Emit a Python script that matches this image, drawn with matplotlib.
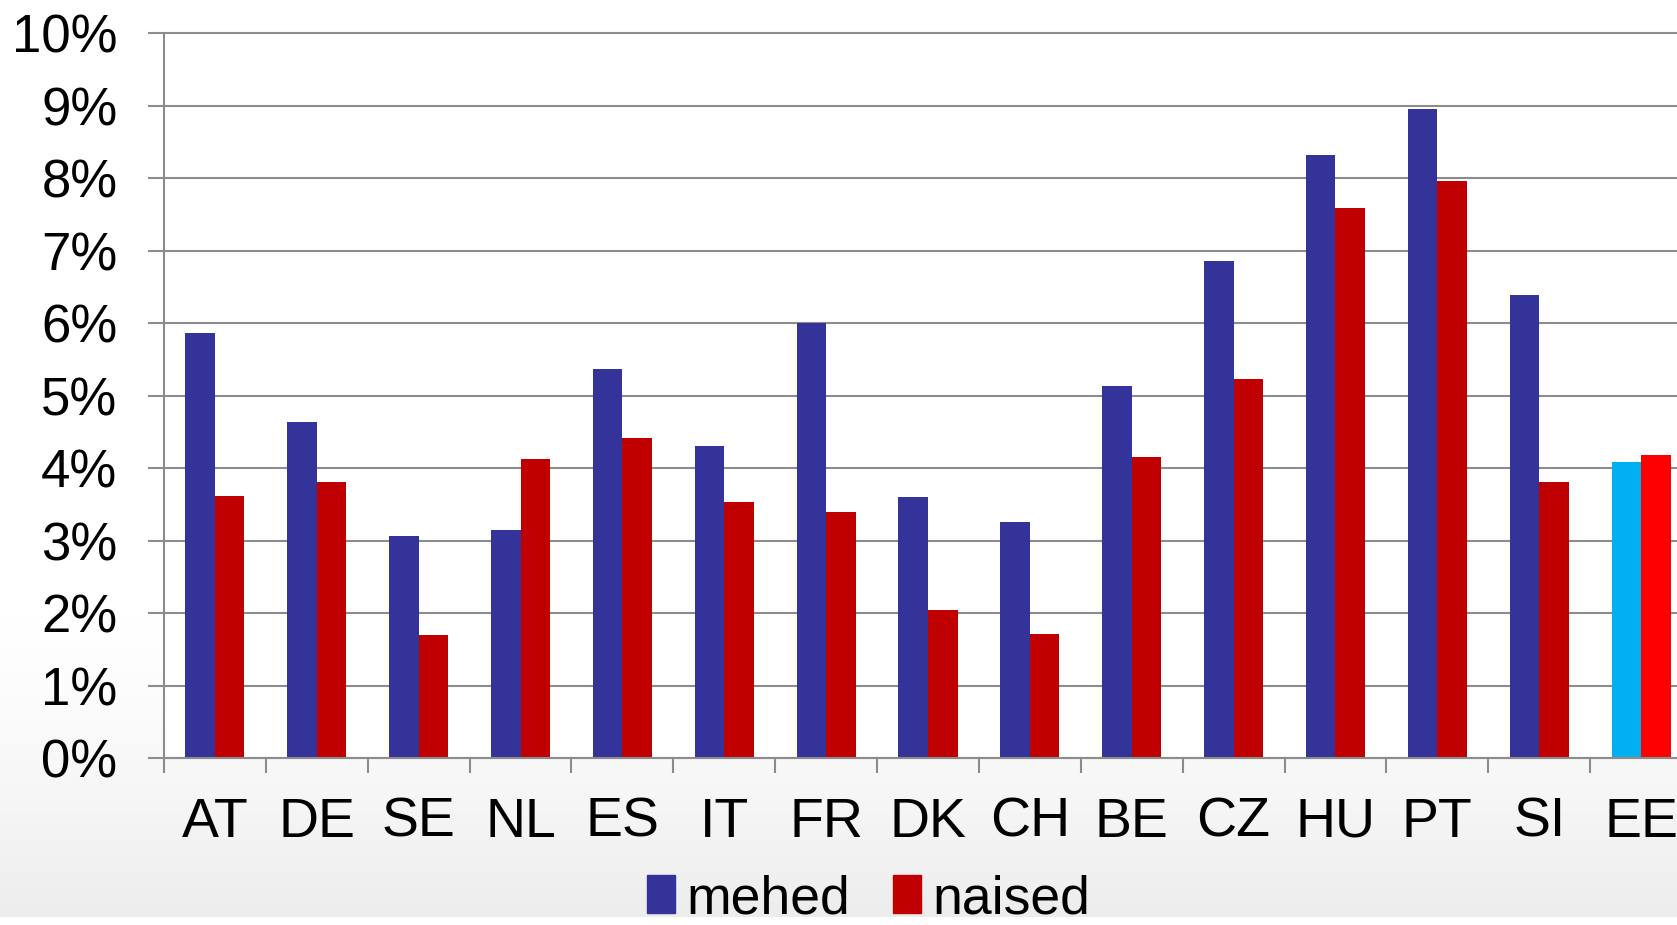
import numpy as np
import matplotlib
matplotlib.use("Agg")
import matplotlib.pyplot as plt
from matplotlib.patches import Patch
from matplotlib.ticker import FixedLocator, NullFormatter, FuncFormatter

plt.rcParams["font.family"] = ["Liberation Sans", "DejaVu Sans"]

countries = ["AT", "DE", "SE", "NL", "ES", "IT", "FR", "DK", "CH",
             "BE", "CZ", "HU", "PT", "SI", "EE"]
mehed = [5.86, 4.64, 3.06, 3.15, 5.36, 4.30, 6.00, 3.60, 3.25,
         5.13, 6.85, 8.32, 8.95, 6.38, 4.08]
naised = [3.62, 3.81, 1.70, 4.12, 4.42, 3.53, 3.40, 2.04, 1.71,
          4.15, 5.23, 7.59, 7.96, 3.81, 4.18]

BLUE, RED = "#333399", "#c00000"
EE_BLUE, EE_RED = "#00b0f0", "#ff0000"
GRID = "#8c8c8c"

fig = plt.figure(figsize=(16.77, 9.25), dpi=100)

# soft grey fade towards the bottom of the canvas (vertical gradient)
bg = fig.add_axes([0, 0, 1, 1], zorder=-10)
rows = 925
t = np.clip((np.arange(rows) - 560) / (915 - 560), 0, 1)
shade = 1 - t ** 1.6 * (1 - 0.925)
shade[917:] = 1.0
img = np.stack([shade, np.minimum(shade * 1.005, 1), shade], axis=-1)
img = np.repeat(img[:, None, :], 4, axis=1)
bg.imshow(img, aspect="auto", extent=[0, 1, 0, 1], interpolation="bilinear")
bg.set_axis_off()

ax = fig.add_axes([164 / 1677, 0.1805, 1528 / 1677, 0.7838])
ax.set_facecolor("white")

x = np.arange(len(countries))
w = 0.29
c_m = [BLUE] * (len(countries) - 1) + [EE_BLUE]
c_n = [RED] * (len(countries) - 1) + [EE_RED]
ax.bar(x - w / 2, mehed, w, color=c_m, zorder=3)
ax.bar(x + w / 2, naised, w, color=c_n, zorder=3)

ax.set_xlim(-0.5, len(countries) - 0.5)
ax.set_ylim(0, 10)
ax.set_yticks(np.arange(0, 11, 1))
ax.yaxis.set_major_formatter(FuncFormatter(lambda v, p: f"{v:.0f}%"))
ax.yaxis.grid(True, color=GRID, lw=1.5, zorder=1)
for gl in ax.get_ygridlines():
    gl.set_clip_on(False)

# category boundaries carry the tick marks, centres carry the names
ax.xaxis.set_major_locator(FixedLocator(np.arange(-0.5, len(countries), 1)))
ax.xaxis.set_major_formatter(NullFormatter())
ax.xaxis.set_minor_locator(FixedLocator(x))
ax.set_xticklabels(countries, minor=True)
ax.tick_params(axis="x", which="major", length=11, width=1.5, color=GRID)
ax.tick_params(axis="x", which="minor", length=0, pad=28, labelsize=40)
ax.tick_params(axis="y", length=11.5, width=1.5, color=GRID, pad=22,
               labelsize=38)

for s in ("top", "right"):
    ax.spines[s].set_visible(False)
for s in ("left", "bottom"):
    ax.spines[s].set_color(GRID)
    ax.spines[s].set_linewidth(1.5)
    ax.spines[s].set_zorder(4)

handles = [Patch(color=BLUE, label="mehed"), Patch(color=RED, label="naised")]
fig.legend(handles=handles, loc="center", bbox_to_anchor=(0.518, 0.028),
           ncol=2, frameon=False, fontsize=38.5, handlelength=0.52,
           handleheight=0.72, handletextpad=0.22, columnspacing=0.8,
           borderpad=0)

fig.savefig("out.png", dpi=100)
